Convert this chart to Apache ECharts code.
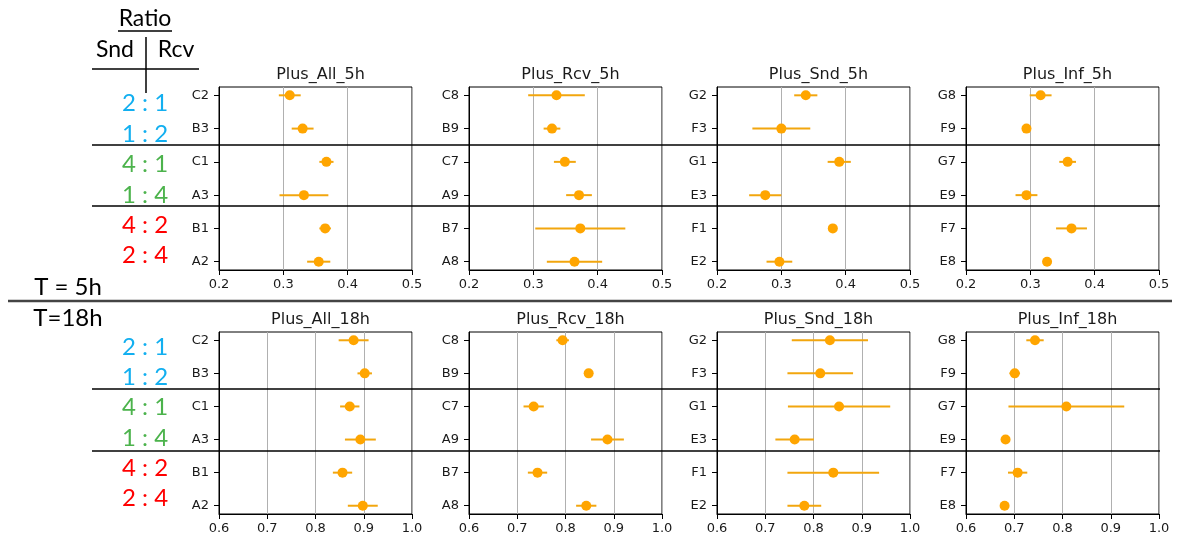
<!DOCTYPE html>
<html>
<head>
<meta charset="utf-8">
<script src="https://cdn.jsdelivr.net/npm/echarts@6/dist/echarts.min.js"></script>
<style>
  html, body { margin: 0; padding: 0; background: #fff; }
  #chart { width: 1177px; height: 541px; }
</style>
</head>
<body>
<div id="chart"></div>
<script>
// categories (top to bottom) for each condition
const catsAll = ['C2', 'B3', 'C1', 'A3', 'B1', 'A2'];
const catsRcv = ['C8', 'B9', 'C7', 'A9', 'B7', 'A8'];
const catsSnd = ['G2', 'F3', 'G1', 'E3', 'F1', 'E2'];
const catsInf = ['G8', 'F9', 'G7', 'E9', 'F7', 'E8'];

// T = 5h : mean and half error bar
const all5hMean = [0.310, 0.330, 0.367, 0.332, 0.365, 0.355];
const all5hErr  = [0.017, 0.017, 0.011, 0.038, 0.009, 0.018];
const rcv5hMean = [0.336, 0.329, 0.349, 0.371, 0.373, 0.364];
const rcv5hErr  = [0.044, 0.013, 0.017, 0.020, 0.070, 0.043];
const snd5hMean = [0.338, 0.300, 0.390, 0.275, 0.380, 0.297];
const snd5hErr  = [0.018, 0.045, 0.018, 0.025, 0.007, 0.020];
const inf5hMean = [0.316, 0.294, 0.358, 0.294, 0.364, 0.326];
const inf5hErr  = [0.017, 0.004, 0.013, 0.017, 0.024, 0.003];

// T = 18h
const all18hMean = [0.879, 0.902, 0.871, 0.893, 0.856, 0.898];
const all18hErr  = [0.031, 0.015, 0.020, 0.032, 0.020, 0.031];
const rcv18hMean = [0.794, 0.848, 0.734, 0.887, 0.742, 0.843];
const rcv18hErr  = [0.013, 0.004, 0.021, 0.034, 0.020, 0.021];
const snd18hMean = [0.834, 0.814, 0.853, 0.761, 0.841, 0.781];
const snd18hErr  = [0.079, 0.068, 0.106, 0.040, 0.095, 0.035];
const inf18hMean = [0.743, 0.701, 0.808, 0.682, 0.707, 0.680];
const inf18hErr  = [0.018, 0.011, 0.120, 0.003, 0.020, 0.003];

const ratioLabels = ['2 : 1', '1 : 2', '4 : 1', '1 : 4', '4 : 2', '2 : 4'];
const ratioColors = ['#12aff0', '#12aff0', '#4cb34c', '#4cb34c', '#ff0000', '#ff0000'];

const panels = [
  { title: 'Plus_All_5h',  cats: catsAll, mean: all5hMean,  err: all5hErr,  row: 0, col: 0 },
  { title: 'Plus_Rcv_5h',  cats: catsRcv, mean: rcv5hMean,  err: rcv5hErr,  row: 0, col: 1 },
  { title: 'Plus_Snd_5h',  cats: catsSnd, mean: snd5hMean,  err: snd5hErr,  row: 0, col: 2 },
  { title: 'Plus_Inf_5h',  cats: catsInf, mean: inf5hMean,  err: inf5hErr,  row: 0, col: 3 },
  { title: 'Plus_All_18h', cats: catsAll, mean: all18hMean, err: all18hErr, row: 1, col: 0 },
  { title: 'Plus_Rcv_18h', cats: catsRcv, mean: rcv18hMean, err: rcv18hErr, row: 1, col: 1 },
  { title: 'Plus_Snd_18h', cats: catsSnd, mean: snd18hMean, err: snd18hErr, row: 1, col: 2 },
  { title: 'Plus_Inf_18h', cats: catsInf, mean: inf18hMean, err: inf18hErr, row: 1, col: 3 }
];

const gridLefts = [219, 469, 717, 966];
const gridWidth = 193;
const rowTops = [87, 332];
const rowHeights = [183, 182];
const xRanges = [[0.2, 0.5], [0.6, 1.0]];

const tickFont = 'DejaVu Sans';
const noteFont = 'Lato';

const chart = echarts.init(document.getElementById('chart'), null, { renderer: 'canvas' });

const grid = [], xAxis = [], yAxis = [], title = [], series = [];
panels.forEach((p, i) => {
  grid.push({
    left: gridLefts[p.col], top: rowTops[p.row], width: gridWidth, height: rowHeights[p.row],
    show: true, borderColor: '#000', borderWidth: 1, backgroundColor: 'transparent'
  });
  title.push({
    text: p.title,
    left: gridLefts[p.col] + gridWidth / 2,
    top: rowTops[p.row] - 25,
    textAlign: 'center',
    textStyle: { fontFamily: tickFont, fontSize: 16, fontWeight: 'normal', color: '#1a1a1a' }
  });
  xAxis.push({
    type: 'value', gridIndex: i,
    min: xRanges[p.row][0], max: xRanges[p.row][1], interval: 0.1,
    axisLine: { show: true, onZero: false, lineStyle: { color: '#000', width: 1 } },
    axisTick: { show: true, length: 5, lineStyle: { color: '#000' } },
    axisLabel: { fontFamily: tickFont, fontSize: 13, color: '#1a1a1a', margin: 8,
      formatter: v => v.toFixed(1) },
    splitLine: { show: true, lineStyle: { color: '#b0b0b0', width: 1 } }
  });
  yAxis.push({
    type: 'value', gridIndex: i, inverse: true,
    min: -0.25, max: 5.25,
    axisLine: { show: true, onZero: false, lineStyle: { color: '#000', width: 1 } },
    axisTick: { show: true, length: 5, customValues: [0, 1, 2, 3, 4, 5], lineStyle: { color: '#000' } },
    axisLabel: { customValues: [0, 1, 2, 3, 4, 5], fontFamily: tickFont, fontSize: 13, color: '#1a1a1a', margin: 10,
      formatter: v => p.cats[Math.round(v)] },
    splitLine: { show: false }
  });
  series.push({
    type: 'custom', xAxisIndex: i, yAxisIndex: i, z: 2,
    data: p.mean.map((m, k) => [k, m - p.err[k], m + p.err[k]]),
    encode: { x: [1, 2], y: 0 },
    renderItem: (params, api) => {
      const y = api.value(0);
      const a = api.coord([api.value(1), y]);
      const b = api.coord([api.value(2), y]);
      return { type: 'line', shape: { x1: a[0], y1: a[1], x2: b[0], y2: b[1] },
        style: { stroke: '#f2a60e', lineWidth: 2 } };
    }
  });
  series.push({
    type: 'scatter', xAxisIndex: i, yAxisIndex: i, z: 3,
    symbolSize: 10,
    itemStyle: { color: '#ffa500', opacity: 1 },
    data: p.mean.map((m, k) => [m, k])
  });
});

// left-hand annotations
const graphic = [];
const hline = (x1, x2, y, w, c) => graphic.push({ type: 'line', shape: { x1: x1, y1: y, x2: x2, y2: y }, style: { stroke: c || '#000', lineWidth: w || 1.3 }, z: 10 });
const text = (s, x, y, size, color) => graphic.push({ type: 'text', x: x, y: y,
  style: { text: s, font: size + 'px ' + noteFont, fill: color || '#000', textAlign: 'center', textVerticalAlign: 'middle' }, z: 10 });

text('Ratio', 145, 19, 23);
hline(118, 172, 31, 1.5);
text('Snd', 115, 50, 23);
text('Rcv', 176, 50, 23);
hline(92, 199, 69, 1.5);
graphic.push({ type: 'line', shape: { x1: 146, y1: 37, x2: 146, y2: 93 }, style: { stroke: '#000', lineWidth: 1.5 }, z: 10 });

const ratioYTop = [103, 134, 164, 195, 225, 255];
const ratioYBottom = [347, 377, 407, 438, 468, 498];
ratioLabels.forEach((s, k) => {
  text(s, 145, ratioYTop[k], 24, ratioColors[k]);
  text(s, 145, ratioYBottom[k], 24, ratioColors[k]);
});

// group separators
hline(92, 1160, 145, 1.3);
hline(92, 1160, 206, 1.3);
hline(92, 1160, 389, 1.3);
hline(92, 1160, 451, 1.3);

text('T = 5h', 68, 287, 24);
hline(8, 1172, 301, 2.5, '#444');
text('T=18h', 68, 318, 24);

chart.setOption({
  animation: false,
  backgroundColor: '#fff',
  title: title,
  grid: grid,
  xAxis: xAxis,
  yAxis: yAxis,
  series: series,
  graphic: graphic
});
</script>
</body>
</html>
